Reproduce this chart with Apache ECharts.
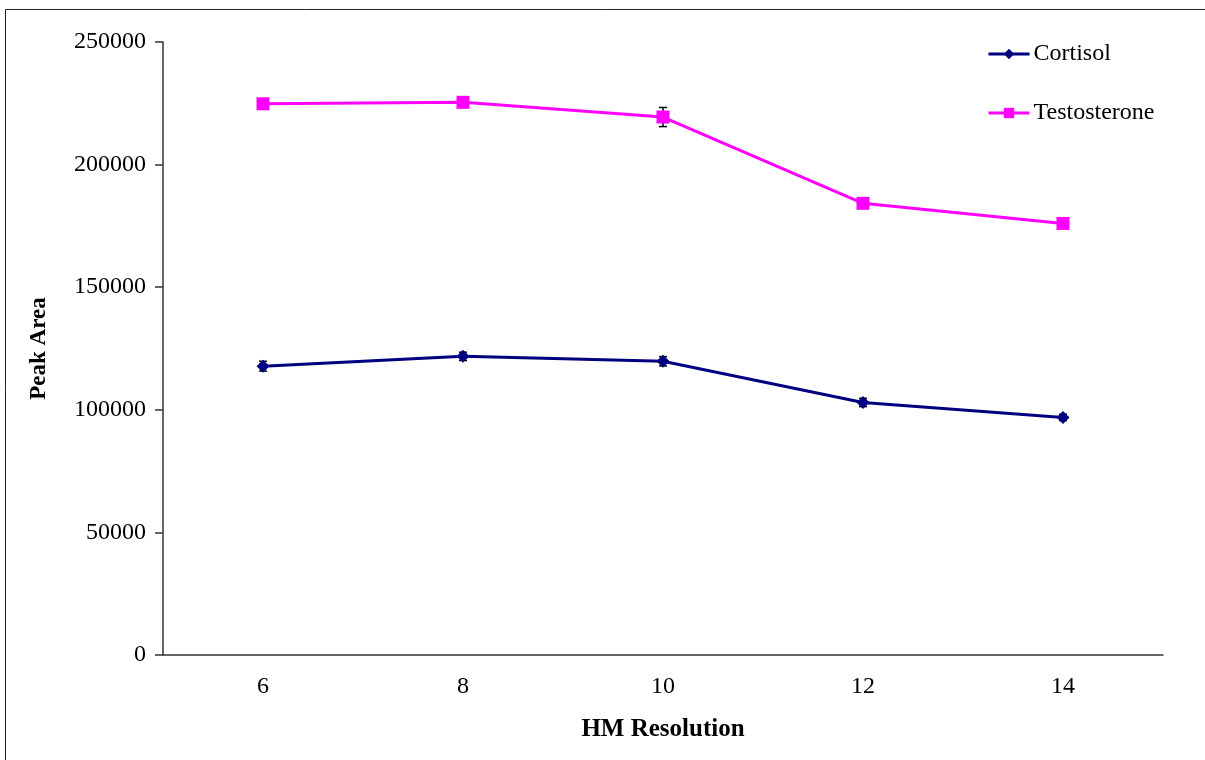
<!DOCTYPE html>
<html>
<head>
<meta charset="utf-8">
<script src="https://cdn.jsdelivr.net/npm/echarts@6/dist/echarts.min.js"></script>
<style>
  html, body { margin: 0; padding: 0; background: #fff; }
  #chart { width: 1205px; height: 760px; }
</style>
</head>
<body>
<div id="chart"></div>
<script>
// data
const resolutions = ['6', '8', '10', '12', '14'];
const cortisol = [117800, 121800, 119800, 103000, 96900];
const cortisolErr = [2000, 1700, 1900, 1700, 1300];
const testosterone = [224800, 225400, 219400, 184200, 176000];
const testosteroneErr = [900, 900, 3900, 1000, 900];
const yTicks = [0, 50000, 100000, 150000, 200000, 250000];

const FONT = '"Liberation Serif", "Times New Roman", serif';

function errorBars(values, errs) {
  return values.map((v, i) => [i, v - errs[i], v + errs[i]]);
}

function renderErr(params, api) {
  const lo = api.coord([api.value(0), api.value(1)]);
  const hi = api.coord([api.value(0), api.value(2)]);
  const half = 4;
  const style = {stroke: '#000', lineWidth: 1.5};
  return {
    type: 'group',
    children: [
      {type: 'line', shape: {x1: lo[0], y1: lo[1], x2: hi[0], y2: hi[1]}, style},
      {type: 'line', shape: {x1: lo[0] - half, y1: lo[1], x2: lo[0] + half, y2: lo[1]}, style},
      {type: 'line', shape: {x1: hi[0] - half, y1: hi[1], x2: hi[0] + half, y2: hi[1]}, style},
    ],
  };
}

const myChart = echarts.init(document.getElementById('chart'), null, {renderer: 'canvas'});

const option = {
  backgroundColor: '#fff',
  animation: false,
  textStyle: {fontFamily: FONT},
  graphic: [{
    type: 'rect',
    shape: {x: 5.5, y: 9.5, width: 1220, height: 780},
    style: {fill: null, stroke: '#222', lineWidth: 1},
    silent: true,
  }],
  grid: {left: 163, right: 42, top: 42, bottom: 105},
  legend: {
    orient: 'vertical',
    left: 987,
    top: 42,
    padding: 0,
    itemWidth: 41,
    itemHeight: 13,
    itemGap: 35,
    lineStyle: {width: 3},
    textStyle: {fontFamily: FONT, fontSize: 24, color: '#000', padding: [0, 0, 0, -1], lineHeight: 24},
    data: ['Cortisol', 'Testosterone'],
  },
  xAxis: {
    type: 'category',
    data: resolutions,
    boundaryGap: true,
    axisLine: {lineStyle: {color: '#333', width: 1.5}},
    axisTick: {show: false},
    axisLabel: {fontFamily: FONT, fontSize: 24, color: '#000', margin: 20},
    splitLine: {show: false},
    name: 'HM Resolution',
    nameLocation: 'middle',
    nameGap: 62,
    nameTextStyle: {fontFamily: FONT, fontSize: 25, fontWeight: 'bold', color: '#000', verticalAlign: 'top'},
  },
  yAxis: {
    type: 'value',
    min: yTicks[0],
    max: yTicks[yTicks.length - 1],
    interval: yTicks[1] - yTicks[0],
    axisLine: {show: true, lineStyle: {color: '#333', width: 1.5}},
    axisTick: {show: true, length: 8, lineStyle: {color: '#333', width: 1.5}},
    axisLabel: {fontFamily: FONT, fontSize: 24, color: '#000', margin: 17, formatter: v => String(v)},
    splitLine: {show: false},
    name: 'Peak Area',
    nameLocation: 'middle',
    nameRotate: 90,
    nameGap: 112,
    nameTextStyle: {fontFamily: FONT, fontSize: 23, fontWeight: 'bold', color: '#000'},
  },
  series: [
    {
      type: 'custom',
      renderItem: renderErr,
      data: errorBars(cortisol, cortisolErr),
      encode: {x: 0, y: [1, 2]},
      z: 1,
      silent: true,
    },
    {
      type: 'custom',
      renderItem: renderErr,
      data: errorBars(testosterone, testosteroneErr),
      encode: {x: 0, y: [1, 2]},
      z: 1,
      silent: true,
    },
    {
      name: 'Cortisol',
      type: 'line',
      data: cortisol,
      color: '#000080',
      lineStyle: {width: 3, color: '#000080'},
      symbol: 'diamond',
      symbolSize: 13,
      itemStyle: {color: '#000080'},
      z: 3,
    },
    {
      name: 'Testosterone',
      type: 'line',
      data: testosterone,
      color: '#ff00ff',
      lineStyle: {width: 3, color: '#ff00ff'},
      symbol: 'rect',
      symbolSize: 13,
      itemStyle: {color: '#ff00ff'},
      z: 3,
    },
  ],
};

myChart.setOption(option);
</script>
</body>
</html>
